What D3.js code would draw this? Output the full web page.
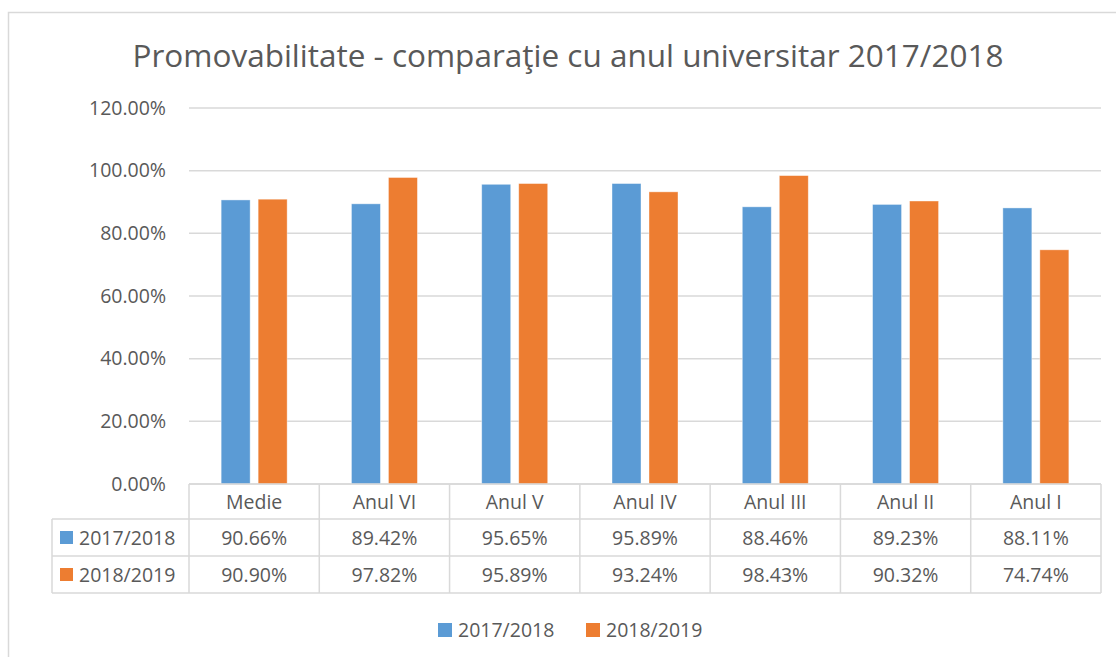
<!DOCTYPE html>
<html>
<head>
<meta charset="utf-8">
<script src="https://cdn.jsdelivr.net/npm/d3@7"></script>
<style>
  body { margin: 0; background: #fff; }
  text { font-family: "Open Sans", "Noto Sans", sans-serif; fill: #595959; }
</style>
</head>
<body>
<svg id="chart" width="1116" height="657"></svg>
<script>
var categories = ["Medie", "Anul VI", "Anul V", "Anul IV", "Anul III", "Anul II", "Anul I"];
var seriesNames = ["2017/2018", "2018/2019"];
var values2017 = [90.66, 89.42, 95.65, 95.89, 88.46, 89.23, 88.11];
var values2018 = [90.90, 97.82, 95.89, 93.24, 98.43, 90.32, 74.74];
var yTicks = [0, 20, 40, 60, 80, 100, 120];
var colors = ["#5B9BD5", "#ED7D31"];

var series = [values2017, values2018];

var svg = d3.select("#chart");
var fs = "19.5px";

// chart border
svg.append("rect")
  .attr("x", 8.5).attr("y", 12.5)
  .attr("width", 1120).attr("height", 660)
  .attr("fill", "none")
  .attr("stroke", "#d9d9d9")
  .attr("stroke-width", 1.5);

svg.append("text")
  .attr("x", 568).attr("y", 67)
  .attr("text-anchor", "middle")
  .style("font-size", "31.5px")
  .text("Promovabilitate - comparaţie cu anul universitar 2017/2018");

var plotLeft = 189, plotRight = 1101, plotTop = 108, plotBottom = 484;

var x = d3.scaleBand().domain(categories).range([plotLeft, plotRight]);
var y = d3.scaleLinear().domain([0, 120]).range([plotBottom, plotTop]);

// gridlines
svg.append("g").selectAll("line")
  .data(yTicks)
  .enter().append("line")
  .attr("x1", plotLeft).attr("x2", plotRight)
  .attr("y1", function(d) { return y(d); })
  .attr("y2", function(d) { return y(d); })
  .attr("stroke", "#d9d9d9")
  .attr("stroke-width", 1.5);

// y axis labels
var yAxis = d3.axisLeft(y).tickValues(yTicks)
  .tickFormat(function(d) { return d.toFixed(2) + "%"; })
  .tickSize(0).tickPadding(23);
var yg = svg.append("g").attr("transform", "translate(" + plotLeft + ",0)").call(yAxis);
yg.select(".domain").remove();
yg.selectAll("text").style("font-size", fs).attr("fill", "#595959")
  .style("font-family", "'Open Sans', sans-serif");

// bars
var barW = 29, offs = 18.5;
series.forEach(function(vals, s) {
  svg.append("g").selectAll("rect")
    .data(vals)
    .enter().append("rect")
    .attr("x", function(d, i) { return x(categories[i]) + x.bandwidth() / 2 + (s === 0 ? -offs : offs) - barW / 2; })
    .attr("y", function(d) { return y(d); })
    .attr("width", barW)
    .attr("height", function(d) { return plotBottom - y(d); })
    .attr("fill", colors[s])
    .attr("stroke", "#fff")
    .attr("stroke-opacity", 0.5)
    .attr("stroke-width", 0.8);
});

// data table
var rowTops = [484, 519, 556, 593];
var tableLeft = 52;
var tg = svg.append("g");
var gridStroke = "#d9d9d9";

function hline(x1, x2, yy) {
  tg.append("line").attr("x1", x1).attr("x2", x2).attr("y1", yy).attr("y2", yy)
    .attr("stroke", gridStroke).attr("stroke-width", 1.5);
}
function vline(xx, y1, y2) {
  tg.append("line").attr("x1", xx).attr("x2", xx).attr("y1", y1).attr("y2", y2)
    .attr("stroke", gridStroke).attr("stroke-width", 1.5);
}

hline(plotLeft, plotRight, rowTops[0]);
hline(tableLeft, plotRight, rowTops[1]);
hline(tableLeft, plotRight, rowTops[2]);
hline(tableLeft, plotRight, rowTops[3]);
vline(tableLeft, rowTops[1], rowTops[3]);
categories.forEach(function(c) { vline(x(c), rowTops[0], rowTops[3]); });
vline(plotRight, rowTops[0], rowTops[3]);

tg.selectAll("text.cat")
  .data(categories)
  .enter().append("text")
  .attr("class", "cat")
  .attr("x", function(d) { return x(d) + x.bandwidth() / 2; })
  .attr("y", (rowTops[0] + rowTops[1]) / 2 + 7)
  .attr("text-anchor", "middle")
  .style("font-size", fs)
  .text(function(d) { return d; });

series.forEach(function(vals, s) {
  var cy = (rowTops[s + 1] + rowTops[s + 2]) / 2;
  tg.append("rect")
    .attr("x", 60).attr("y", cy - 6.5)
    .attr("width", 13).attr("height", 13)
    .attr("fill", colors[s]);
  tg.append("text")
    .attr("x", 79).attr("y", cy + 7)
    .style("font-size", fs)
    .text(seriesNames[s]);
  tg.selectAll("text.v" + s)
    .data(vals)
    .enter().append("text")
    .attr("class", "v" + s)
    .attr("x", function(d, i) { return x(categories[i]) + x.bandwidth() / 2; })
    .attr("y", cy + 7)
    .attr("text-anchor", "middle")
    .style("font-size", fs)
    .text(function(d) { return d.toFixed(2) + "%"; });
});

// legend
var legX = [438, 586];
series.forEach(function(vals, s) {
  svg.append("rect")
    .attr("x", legX[s]).attr("y", 623)
    .attr("width", 14).attr("height", 14)
    .attr("fill", colors[s]);
  svg.append("text")
    .attr("x", legX[s] + 20).attr("y", 637)
    .style("font-size", fs)
    .text(seriesNames[s]);
});
</script>
</body>
</html>
